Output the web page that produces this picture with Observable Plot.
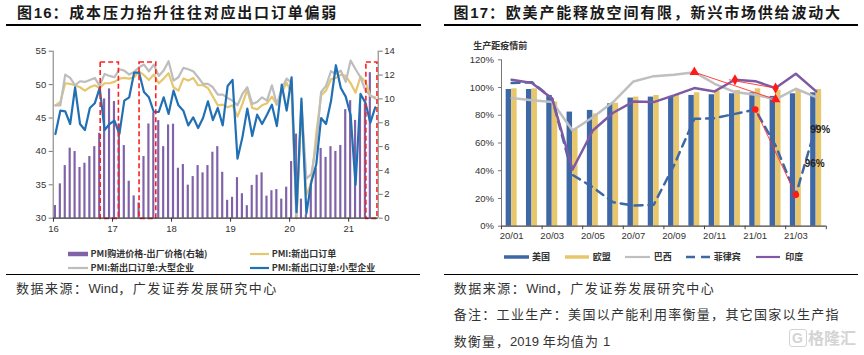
<!DOCTYPE html>
<html><head><meta charset="utf-8">
<script src="https://cdn.jsdelivr.net/npm/d3@7"></script>
<script src="https://cdn.jsdelivr.net/npm/@observablehq/plot@0.6"></script>
<style>
body{margin:0;background:#fff;}
#page{position:relative;width:864px;height:355px;overflow:hidden;background:#fff;font-family:"Noto Sans CJK SC","Liberation Sans",sans-serif;}
.abs{position:absolute;white-space:nowrap;}
.title{font-size:15px;font-weight:bold;letter-spacing:1.8px;color:#1a1a1a;line-height:18px;}
.src{font-size:13px;color:#333;line-height:16px;letter-spacing:1.5px;}
.leg{font-size:9px;font-weight:bold;color:#333;line-height:11px;}
.latin{font-family:"Liberation Sans",Arial,sans-serif;letter-spacing:0;}
svg.chart{position:absolute;}
</style></head>
<body><div id="page"></div>
<script>
// ---------------- Left chart data (monthly, 2016-01 .. 2021-06) ----------------
const leftYearLabels = ["16","17","18","19","20","21"];
// PMI purchase price - output price (right axis), 2016-01 .. 2021-05
const priceGap = [1.06,2.88,4.41,5.87,5.59,4.25,4.61,5.17,6.0,7.12,
  10.0,10.84,9.78,7.9,6.09,3.1,1.87,1.28,5.17,7.9,
  8.83,8.18,6.0,7.82,7.88,4.19,4.5,2.77,3.49,4.41,
  3.8,4.41,5.53,6.0,3.85,1.5,1.75,3.4,2.05,1.05,
  2.75,3.6,3.8,1.85,2.3,2.4,1.6,2.6,4.75,7.05,
  1.6,0.3,2.9,4.2,5.85,5.1,6.0,5.6,6.1,9.1,
  9.85,8.2,9.6,9.6,12.2];
const newExportOrders = [46.9,47.4,50.2,50.1,49.9,49.6,49.1,49.6,49.9,49.5,
  50.2,50.2,50.4,50.9,51.0,50.9,51.1,52.0,51.4,50.7,
  51.5,50.2,50.9,51.7,49.6,49.1,50.9,50.6,51.0,49.9,
  49.9,49.5,48.2,46.9,47.0,46.6,46.9,45.2,47.1,49.2,
  46.5,46.3,46.9,47.2,48.2,47.0,48.8,50.3,48.7,30.0,
  46.4,33.5,35.3,42.6,48.4,49.1,50.8,51.0,51.5,51.3,
  50.2,48.8,51.2,50.4,48.3,48.1];
const newExportLarge = [46.9,46.9,51.5,51.0,49.9,50.5,50.4,50.7,51.0,49.8,
  51.6,51.3,51.1,52.3,52.1,51.5,51.9,52.6,53.0,52.0,
  53.0,51.3,52.1,53.5,50.6,51.1,52.5,52.3,52.0,51.1,
  50.1,50.1,49.6,48.5,48.5,48.0,47.6,46.9,48.6,49.6,
  47.1,47.4,48.1,47.6,49.9,47.0,49.4,50.9,50.3,30.2,
  47.3,35.9,36.6,40.9,48.9,49.8,52.0,51.6,52.1,50.4,
  53.6,52.3,51.1,49.1,48.4,47.9];
const newExportSmall = [42.6,46.1,46.0,44.1,49.6,44.1,43.2,46.5,47.2,49.5,
  43.2,44.1,44.6,42.6,47.6,48.1,51.8,51.8,48.9,48.1,
  45.9,45.9,48.1,45.6,49.1,46.9,46.1,43.9,45.1,43.5,
  45.0,47.5,44.7,46.5,43.9,49.8,50.7,38.9,42.1,46.4,
  42.3,45.5,44.1,45.5,47.0,43.8,50.0,46.1,51.1,30.9,
  47.9,30.7,35.4,38.0,45.0,44.1,47.5,52.9,49.5,48.2,
  45.4,35.0,48.6,47.3,44.3,46.6];
const highlightStart = [9.2, 17.1, 63.2];
const highlightEnd = [12.9, 20.5, 65.45];
const leftTicks = [30,35,40,45,50,55];
const rightTicks = [0,2,4,6,8,10,12,14];

// ---------------- Right chart data ----------------
const rightMonths = ["20/01","20/02","20/03","20/04","20/05","20/06","20/07","20/08",
  "20/09","20/10","20/11","20/12","21/01","21/02","21/03","21/04"];
const usIP = [98.6,98.6,94.3,82.3,83.5,88.3,92.4,93.1,93.6,94.3,94.8,95.5,96.2,93.6,95.5,96.2];
const euIP = [99.1,99.1,89.5,70.0,81.0,88.7,93.1,94.3,94.3,96.2,97.2,97.9,99.1,97.9,97.9,98.6];
const brazilIP = [92.4,90.9,89.5,69.0,78.6,89.5,104.4,108.2,109.2,111.1,102.7,96.7,94.8,91.4,99.1,93.1];
const philippinesIP = [103.2,103.9,91.9,37.0,28.1,17.3,14.9,15.5,44.0,77.4,77.9,81.0,84.2,58.2,22.6,72.6];
const indiaIP = [105.6,103.2,91.9,40.9,69.0,81.8,89.9,89.5,94.3,99.6,97.2,105.6,104.6,99.6,109.9,97.2];
const pctTicks = [0,20,40,60,80,100,120];
const endLabels = ["99%","96%"];

const page = document.getElementById("page");
function addText(html, x, yc, cls, lh) {
  const d = document.createElement("div");
  d.className = "abs " + cls;
  d.innerHTML = html;
  d.style.left = x + "px";
  d.style.top = (yc - lh / 2) + "px";
  page.appendChild(d);
  return d;
}
function addRule(x, y, w, h) {
  const d = document.createElement("div");
  d.className = "abs";
  Object.assign(d.style, {left: x + "px", top: y + "px", width: w + "px", height: h + "px", background: "#000"});
  page.appendChild(d);
}
function addSwatch(x1, x2, yc, color, thick, dash) {
  const ns = "http://www.w3.org/2000/svg";
  const s = document.createElementNS(ns, "svg");
  s.setAttribute("width", x2 - x1); s.setAttribute("height", 8);
  s.style.position = "absolute"; s.style.left = x1 + "px"; s.style.top = (yc - 4) + "px";
  const l = document.createElementNS(ns, "line");
  l.setAttribute("x1", 0); l.setAttribute("x2", x2 - x1); l.setAttribute("y1", 4); l.setAttribute("y2", 4);
  l.setAttribute("stroke", color); l.setAttribute("stroke-width", thick);
  if (dash) l.setAttribute("stroke-dasharray", dash);
  s.appendChild(l); page.appendChild(s);
}

const axisStyle = {fontFamily: '"Liberation Sans", Arial, sans-serif', fontSize: "9.5px", color: "#333", background: "transparent", overflow: "visible"};

// ---------------- Left chart ----------------
const toLeft = r => 30 + r * 25 / 14;
const fromLeft = v => (v - 30) * 14 / 25;
const xL = [-0.45, 65.6];
const ser = arr => arr.map((v, i) => ({i, v}));
const yearTicks = leftYearLabels.map((_, j) => j * 12 - 0.4);
const boxes = highlightStart.map((s, j) => ({s, e: highlightEnd[j]}));

const left = Plot.plot({
  width: 432, height: 212,
  marginLeft: 52.7, marginRight: 54.3, marginTop: 20.7, marginBottom: 24.3,
  x: {type: "linear", domain: xL, axis: null},
  y: {domain: [30, 55], axis: null},
  style: axisStyle,
  marks: [
    Plot.rect(ser(priceGap), {x1: d => d.i - 0.22, x2: d => d.i + 0.22, y1: 30, y2: d => toLeft(d.v), fill: "#7f62a8"}),
    Plot.line(ser(newExportOrders), {x: "i", y: "v", stroke: "#e6c66e", strokeWidth: 2.2}),
    Plot.line(ser(newExportLarge), {x: "i", y: "v", stroke: "#bdbdbd", strokeWidth: 2.2}),
    Plot.line(ser(newExportSmall), {x: "i", y: "v", stroke: "#2270b4", strokeWidth: 2.2}),
    Plot.rect(boxes, {x1: "s", x2: "e", y1: 29.9, y2: 53.3, fill: "none", stroke: "#ff2020", strokeWidth: 1.6, strokeDasharray: "5,3"}),
    Plot.ruleX([xL[0]], {stroke: "#777"}),
    Plot.ruleX([xL[1]], {stroke: "#777"}),
    Plot.ruleY([30], {stroke: "#333", strokeWidth: 1.3}),
    Plot.axisY({ticks: leftTicks, anchor: "left", tickSize: 4, tickPadding: 3, stroke: "#777", fill: "#333", label: null}),
    Plot.axisY({ticks: rightTicks.map(toLeft), anchor: "right", tickSize: 4, tickPadding: 2, stroke: "#777", fill: "#333", label: null,
      tickFormat: v => String(Math.round(fromLeft(v)))}),
    Plot.axisX({ticks: yearTicks, anchor: "bottom", tickSize: 4, tickPadding: 3, stroke: "#333", fill: "#333", label: null,
      tickFormat: d => leftYearLabels[yearTicks.indexOf(d)]})
  ]
});
left.classList.add("chart");
left.style.left = "0px"; left.style.top = "30px";
page.appendChild(left);

// ---------------- Right chart ----------------
const rser = arr => arr.map((v, k) => ({k, v}));
const boundaries = d3.range(-0.5, 16, 2);
const labelTicks = d3.range(0, 16, 2);
const redLinks = [
  {x1: 9, y1: brazilIP[9], x2: 13, y2: brazilIP[13]},
  {x1: 10.7, y1: indiaIP[11], x2: 13, y2: indiaIP[13]},
  {x1: 12, y1: philippinesIP[12], x2: 14, y2: philippinesIP[14]}
];
const triDots = [9, 13].map(k => ({k, v: brazilIP[k]}));
const diaDots = [11, 13].map(k => ({k, v: indiaIP[k]}));
const cirDots = [12, 14].map(k => ({k, v: philippinesIP[k]}));
const endNotes = [{t: endLabels[0], k: 15.2, v: 69.5}, {t: endLabels[1], k: 14.93, v: 45}];

const right = Plot.plot({
  width: 432, height: 215,
  marginLeft: 69, marginRight: 38.2, marginTop: 29.3, marginBottom: 19.3,
  x: {type: "linear", domain: [-0.5, 15.5], axis: null},
  y: {domain: [0, 120], axis: null},
  style: axisStyle,
  marks: [
    Plot.rect(rser(usIP), {x1: d => d.k - 0.27, x2: d => d.k, y1: 0, y2: "v", fill: "#3e67a6"}),
    Plot.rect(rser(euIP), {x1: d => d.k, x2: d => d.k + 0.27, y1: 0, y2: "v", fill: "#e8c66b"}),
    Plot.line(rser(brazilIP), {x: "k", y: "v", stroke: "#bfbfbf", strokeWidth: 2.5}),
    Plot.line(rser(philippinesIP), {x: "k", y: "v", stroke: "#3e67a6", strokeWidth: 2.5, strokeDasharray: "8,6"}),
    Plot.line(rser(indiaIP), {x: "k", y: "v", stroke: "#7e5aa3", strokeWidth: 2.5}),
    Plot.link(redLinks, {x1: "x1", y1: "y1", x2: "x2", y2: "y2", stroke: "#ff3030", strokeWidth: 0.9}),
    Plot.dot(triDots, {x: "k", y: "v", symbol: "triangle", r: 3.6, fill: "#ff1a1a", stroke: "none"}),
    Plot.dot(diaDots, {x: "k", y: "v", symbol: "diamond", r: 3.4, fill: "#ff1a1a", stroke: "none"}),
    Plot.dot(cirDots, {x: "k", y: "v", symbol: "circle", r: 3.3, fill: "#ff1a1a", stroke: "none"}),
    Plot.text(endNotes, {x: "k", y: "v", text: "t", fontWeight: "bold", fontSize: 10, fill: "#222"}),
    Plot.ruleX([-0.5], {stroke: "#777"}),
    Plot.ruleY([0], {stroke: "#444", strokeWidth: 1.3}),
    Plot.axisY({ticks: pctTicks, anchor: "left", tickSize: 3, tickPadding: 4.5, stroke: "#777", fill: "#333", label: null,
      tickFormat: d => d + "%"}),
    Plot.axisX({ticks: boundaries, anchor: "bottom", tickSize: 3.5, stroke: "#444", label: null, tickFormat: () => ""}),
    Plot.axisX({ticks: labelTicks, anchor: "bottom", tickSize: 0, tickPadding: 6.5, fill: "#333", label: null,
      tickFormat: d => rightMonths[d]})
  ]
});
right.classList.add("chart");
right.style.left = "432px"; right.style.top = "30px";
page.appendChild(right);

// ---------------- Titles, legends, notes ----------------
addText("图<span class='latin' style='letter-spacing:1px'>16</span>：成本压力抬升往往对应出口订单偏弱", 17, 12, "title", 18);
addRule(6, 24.3, 415, 1.6);
addText("图<span class='latin' style='letter-spacing:1px'>17</span>：欧美产能释放空间有限，新兴市场供给波动大", 453.5, 12, "title", 18);
addRule(443.5, 24.3, 414.5, 1.6);

addText("生产距疫情前", 473.3, 45.7, "leg", 11);

// left legend
addSwatch(68.3, 88.3, 253.7, "#7f62a8", 4.5);
addText("PMI购进价格-出厂价格(右轴)", 90.5, 253.7, "leg", 11);
addSwatch(250, 269.3, 253.7, "#e6c66e", 2.2);
addText("PMI:新出口订单", 271.7, 253.7, "leg", 11);
addSwatch(68.3, 88.3, 267.7, "#bdbdbd", 2.2);
addText("PMI:新出口订单:大型企业", 90.5, 267.7, "leg", 11);
addSwatch(250, 269.3, 267.7, "#2270b4", 2.2);
addText("PMI:新出口订单:小型企业", 271.7, 267.7, "leg", 11);

// right legend
addSwatch(503.7, 528.7, 256.7, "#3e67a6", 3.5);
addText("美国", 532, 256.7, "leg", 11);
addSwatch(564.7, 589.3, 256.7, "#e8c66b", 3.5);
addText("欧盟", 592.7, 256.7, "leg", 11);
addSwatch(625, 650, 256.7, "#bfbfbf", 2.2);
addText("巴西", 653.7, 256.7, "leg", 11);
addSwatch(686, 710, 256.7, "#3e67a6", 2.5, "9,6");
addText("菲律宾", 713.7, 256.7, "leg", 11);
addSwatch(756, 780, 256.7, "#7e5aa3", 2.2);
addText("印度", 785.3, 256.7, "leg", 11);

addRule(6, 273.6, 414, 1.4);
addRule(443.7, 273.6, 414.3, 1.4);

addText("数据来源：<span class='latin'>Wind</span>，广发证券发展研究中心", 16, 288, "src", 16);
addText("数据来源：<span class='latin'>Wind</span>，广发证券发展研究中心", 453.7, 287.7, "src", 16);
addText("备注：工业生产：美国以产能利用率衡量，其它国家以生产指", 453.7, 314.3, "src", 16).style.letterSpacing = "1.3px";
addText("数衡量，<span class='latin'>2019 </span>年均值为 <span class='latin'>1</span>", 453.7, 341, "src", 16).style.letterSpacing = "1.1px";

const wm = addText("格隆汇", 808, 338, "src", 18);
Object.assign(wm.style, {fontSize: "16px", color: "#d4d4d4", fontWeight: "bold", letterSpacing: "0px"});
const g = addText("G", 789, 338, "src", 18);
Object.assign(g.style, {fontSize: "14px", color: "#d4d4d4", fontWeight: "bold", border: "1.5px solid #d4d4d4", borderRadius: "3px", padding: "0 2px", lineHeight: "16px", fontFamily: "Liberation Sans"});
</script></body></html>
